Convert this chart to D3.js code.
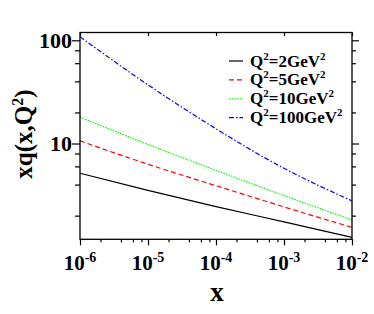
<!DOCTYPE html>
<html>
<head>
<meta charset="utf-8">
<script src="https://cdn.jsdelivr.net/npm/d3@7"></script>
<style>
  body { margin: 0; background: #fff; }
  svg text { font-family: "Liberation Serif", "Times New Roman", serif; font-weight: bold; }
</style>
</head>
<body>
<div id="chart"></div>
<script>
// x values (decades) and xq(x,Q^2) for each Q^2
var xs = [1e-6, 1e-5, 1e-4, 1e-3, 1e-2];
var q2 = ["2", "5", "10", "100"];
var q2_2 = [5.15, 3.51, 2.45, 1.74, 1.23];
var q2_5 = [10.6, 6.3, 3.9, 2.43, 1.54];
var q2_10 = [18, 9.8, 5.5, 3.13, 1.82];
var q2_100 = [108, 37, 13.9, 5.75, 2.78];
var xMajor = [1e-6, 1e-5, 1e-4, 1e-3, 1e-2];
var xExp = ["-6", "-5", "-4", "-3", "-2"];
var yMajor = [10, 100];
var yMinor = [2, 4, 6, 8, 20, 40, 60, 80];

var W = 374, H = 314;
var pLeft = 80, pRight = 352, pTop = 32.5, pBottom = 239.3;

var svg = d3.select("#chart").append("svg")
    .attr("width", W).attr("height", H);

var x = d3.scaleLog().domain([1e-6, 1e-2]).range([pLeft, pRight]);
var y = d3.scaleLog().domain([1.18, 119]).range([pBottom, pTop]);

var xMinor = [];
xMajor.slice(0, -1).forEach(function (d) {
    [2, 4, 6, 8].forEach(function (m) { xMinor.push(d * m); });
});

var series = [
    { vals: q2_2, color: "#000000", dash: null },
    { vals: q2_5, color: "#ff0000", dash: "5,3" },
    { vals: q2_10, color: "#00ff00", dash: "1.5,1.2" },
    { vals: q2_100, color: "#0000ff", dash: "5,2,1.5,2" }
];

var line = d3.line()
    .x(function (d, i) { return x(xs[i]); })
    .y(function (d) { return y(d); })
    .curve(d3.curveNatural);

svg.selectAll(".curve")
    .data(series)
    .enter()
    .append("path")
    .attr("class", "curve")
    .attr("d", function (d) { return line(d.vals); })
    .attr("fill", "none")
    .attr("stroke", function (d) { return d.color; })
    .attr("stroke-width", 1.2)
    .attr("stroke-dasharray", function (d) { return d.dash; });

// axes
function styleAxis(g) {
    g.select(".domain").remove();
    g.selectAll("line").attr("stroke", "#000").attr("stroke-width", 1.2);
    g.selectAll("text").remove();
}

svg.append("g").attr("transform", "translate(" + pLeft + ",0)")
    .call(d3.axisLeft(y).tickValues(yMajor).tickSize(8)).call(styleAxis);
svg.append("g").attr("transform", "translate(" + pLeft + ",0)")
    .call(d3.axisLeft(y).tickValues(yMinor).tickSize(5)).call(styleAxis);
svg.append("g").attr("transform", "translate(" + pRight + ",0)")
    .call(d3.axisRight(y).tickValues(yMajor).tickSize(7)).call(styleAxis);
svg.append("g").attr("transform", "translate(" + pRight + ",0)")
    .call(d3.axisRight(y).tickValues(yMinor).tickSize(4)).call(styleAxis);
svg.append("g").attr("transform", "translate(0," + pBottom + ")")
    .call(d3.axisBottom(x).tickValues(xMajor).tickSize(6)).call(styleAxis);
svg.append("g").attr("transform", "translate(0," + pBottom + ")")
    .call(d3.axisBottom(x).tickValues(xMinor).tickSize(3)).call(styleAxis);
svg.append("g").attr("transform", "translate(0," + pTop + ")")
    .call(d3.axisBottom(x).tickValues(xMajor).tickSize(3.5)).call(styleAxis);

svg.append("rect")
    .attr("x", pLeft).attr("y", pTop)
    .attr("width", pRight - pLeft).attr("height", pBottom - pTop)
    .attr("fill", "none").attr("stroke", "#000").attr("stroke-width", 1.3);

// tick labels
svg.selectAll(".ylab")
    .data(yMajor)
    .enter()
    .append("text")
    .attr("class", "ylab")
    .attr("x", pLeft - 8)
    .attr("y", function (d) { return y(d); })
    .attr("dy", "0.35em")
    .attr("text-anchor", "end")
    .attr("font-size", 22)
    .text(function (d) { return d; });

var xl = svg.selectAll(".xlab")
    .data(xMajor)
    .enter()
    .append("text")
    .attr("class", "xlab")
    .attr("x", function (d) { return x(d); })
    .attr("y", 270)
    .attr("text-anchor", "middle")
    .attr("font-size", 21);
xl.append("tspan").text("10");
xl.append("tspan").attr("dy", -8).attr("font-size", 14)
    .text(function (d, i) { return xExp[i]; });

// axis titles
svg.append("text")
    .attr("x", 217).attr("y", 301)
    .attr("text-anchor", "middle")
    .attr("font-size", 27)
    .text("x");

var yt = svg.append("text")
    .attr("transform", "translate(32,134) rotate(-90)")
    .attr("text-anchor", "middle")
    .attr("font-size", 25);
yt.append("tspan").text("xq(x,Q");
yt.append("tspan").attr("dy", -9).attr("font-size", 16).text("2");
yt.append("tspan").attr("dy", 9).text(")");

// legend
var leg = svg.selectAll(".leg")
    .data(series)
    .enter()
    .append("g")
    .attr("class", "leg")
    .attr("transform", function (d, i) { return "translate(229," + (61 + i * 18.9) + ")"; });

leg.append("line")
    .attr("x1", 0).attr("x2", 14)
    .attr("stroke", function (d) { return d.color; })
    .attr("stroke-width", 1.2)
    .attr("stroke-dasharray", function (d) { return d.dash; });

var lt = leg.append("text")
    .attr("x", 21).attr("y", 5.5)
    .attr("font-size", 17);
lt.append("tspan").text("Q");
lt.append("tspan").attr("dy", -7).attr("font-size", 11).text("2");
lt.append("tspan").attr("dy", 7).text(function (d, i) { return "=" + q2[i] + "GeV"; });
lt.append("tspan").attr("dy", -7).attr("font-size", 11).text("2");
</script>
</body>
</html>
